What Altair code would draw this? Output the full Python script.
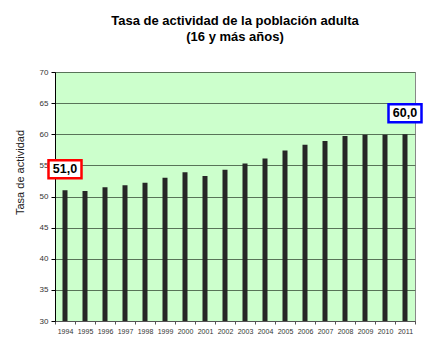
import altair as alt
import pandas as pd

years = [str(y) for y in range(1994, 2012)]
values = [51.0, 50.9, 51.5, 51.8, 52.2, 53.0, 53.9, 53.3, 54.3, 55.3, 56.1, 57.4, 58.3, 58.9, 59.7, 59.9, 59.9, 60.0]
ann_years = ["1994", "2011"]
ann_labels = ["51,0", "60,0"]
ann_colors = ["#FF0000", "#0000FF"]

df = pd.DataFrame({"year": years, "value": values})
ann = pd.DataFrame({
    "year": ann_years,
    "value": [values[years.index(y)] for y in ann_years],
    "label": ann_labels,
})

xaxis = alt.Axis(labelAngle=0, labelFontSize=7, labelColor="#333333",
                 labelFont="Liberation Sans", tickBand="extent",
                 tickSize=3, tickColor="#555555", domainColor="#555555",
                 labelPadding=3, grid=False)
xenc = alt.X("year:O", title=None, sort=years,
             scale=alt.Scale(paddingInner=0, paddingOuter=0), axis=xaxis)
yscale = alt.Scale(domain=[30, 70], nice=False, zero=False)
yaxis = alt.Axis(values=list(range(30, 75, 5)), labelFontSize=8, labelOverlap=False,
                 labelColor="#333333", labelFont="Liberation Sans",
                 grid=True, gridColor="#587458", gridWidth=1,
                 domainColor="#000000", tickColor="#000000", tickSize=4,
                 labelPadding=3, titleFontSize=11, titleFontWeight="normal",
                 titleFont="Liberation Sans", titleColor="#222222",
                 titleY=100, titleX=-30, titleAnchor="middle")
yenc = alt.Y("value:Q", scale=yscale, title="Tasa de actividad", axis=yaxis)

bars = alt.Chart(df).mark_bar(color="#262626", size=5).encode(
    x=xenc,
    y=yenc,
    y2=alt.datum(30),
)

shape_path = "M-1,-0.55L1,-0.55L1,0.55L-1,0.55Z"
boxes = alt.Chart(ann).mark_point(shape=shape_path, size=1089, filled=False,
                                  fill="white", fillOpacity=1, strokeWidth=2.5,
                                  opacity=1, yOffset=-21).encode(
    x=xenc,
    y=yenc,
    stroke=alt.Stroke("label:N", scale=alt.Scale(domain=ann_labels, range=ann_colors), legend=None),
)
texts = alt.Chart(ann).mark_text(fontSize=12.5, fontWeight="bold", font="Liberation Sans",
                                 color="black", yOffset=-21, baseline="middle").encode(
    x=xenc,
    y=yenc,
    text="label:N",
)

chart = alt.layer(bars, boxes, texts).properties(
    width=360, height=249,
    title=alt.TitleParams(["Tasa de actividad de la población adulta", "(16 y más años)"],
                          fontSize=13, fontWeight="bold", font="Liberation Sans",
                          color="black", anchor="middle", offset=24, lineHeight=16),
    autosize=alt.AutoSizeParams(type="none"),
    padding={"left": 55, "top": 72, "right": 14, "bottom": 30},
    background="white",
).configure_view(fill="#CCFFCC", stroke="#888888", strokeWidth=1)

chart.save("out.html", embed_options={"renderer": "svg", "actions": False})
